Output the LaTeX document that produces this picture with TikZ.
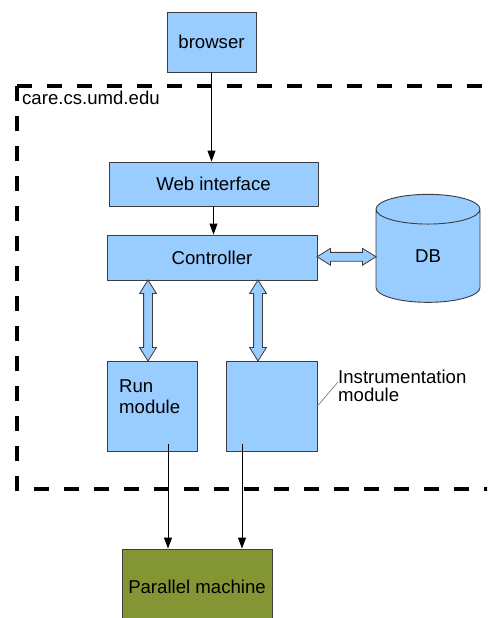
\documentclass[tikz,border=0pt]{standalone}
\usepackage{fontspec}
\setmainfont{Liberation Sans}
\usetikzlibrary{shapes.geometric,shapes.arrows,arrows.meta,calc}
\definecolor{boxblue}{RGB}{153,204,255}
\definecolor{machineolive}{RGB}{132,150,52}
\definecolor{edgegray}{RGB}{60,60,60}
\begin{document}
\begin{tikzpicture}[x=1pt,y=-1pt,
	every node/.style={font=\fontsize{18.6}{21}\selectfont},
	box/.style={draw=edgegray, fill=boxblue, line width=0.9pt, inner sep=0pt},
	arr/.style={-{Triangle[width=8pt,length=11pt]}, line width=0.9pt},
	biarrow/.style={double arrow, draw=edgegray, fill=boxblue, line width=0.8pt, inner sep=4pt,
		double arrow head extend=4pt, double arrow tip angle=64, minimum width=16pt}]
	\useasboundingbox (0,0) rectangle (487,618);
	\clip (0,0) rectangle (487,618);
	\fill[white] (0,0) rectangle (487,618);
	% site border
	\draw[dash pattern=on 15pt off 15pt, line width=3.5pt] (17,86) -- (500,86);
	\draw[dash pattern=on 15pt off 15pt, line width=3.5pt] (17,86) -- (17,489) -- (500,489);
	\node[anchor=base west, inner sep=0pt] (site) at (22,104) {care.cs.umd.edu};
	% boxes
	\node[box, minimum width=89, minimum height=60] (browser) at (211.5,42) {browser};
	\node[box, minimum width=209, minimum height=44] (web) at (213.5,184) {Web interface};
	\node[box, minimum width=210, minimum height=45] (ctrl) at (212,257.5) {Controller};
	\node[cylinder, shape border rotate=90, aspect=1.15, draw=edgegray, fill=boxblue, line width=0.9pt,
		minimum width=104, minimum height=108, inner sep=0pt] (db) at (428,256) {\raisebox{-7pt}{DB}};
	\node[box, minimum width=90, minimum height=90] (run) at (152,406) {};
	\node[anchor=base west, align=left, inner sep=0pt] (runlbl) at (119,413) {Run\\module};
	\node[box, minimum width=91, minimum height=90] (instr) at (271.5,406) {};
	\node[anchor=base west, align=left, inner sep=0pt,
		font=\fontsize{18.6}{17.5}\selectfont] (instrlbl) at (338,401) {Instrumentation\\module};
	\node[draw=edgegray, fill=machineolive, line width=0.9pt, minimum width=150, minimum height=76] (par) at (197,587) {Parallel machine};
	% connectors
	\draw[arr] (browser.south) -- (browser.south |- web.north);
	\draw[arr] (web.south) -- (web.south |- ctrl.north);
	\node[biarrow, minimum height=59] (dbarrow) at ($(ctrl.east)!.5!(db.west)$) {};
	\node[biarrow, shape border rotate=90, minimum height=81] (runarrow) at ($(ctrl.south -| 148,0)!.5!(run.north -| 148,0)$) {};
	\node[biarrow, shape border rotate=90, minimum height=81] (instrarrow) at ($(ctrl.south -| 258,0)!.5!(instr.north -| 258,0)$) {};
	\coordinate (lead) at (338,382);
	\draw[gray, line width=0.7pt] (instr.east) -- (lead);
	\coordinate (runout) at (168,444);
	\coordinate (instrout) at (242,444);
	\draw[arr] (runout) -- (runout |- par.north);
	\draw[arr] (instrout) -- (instrout |- par.north);
\end{tikzpicture}
\end{document}
